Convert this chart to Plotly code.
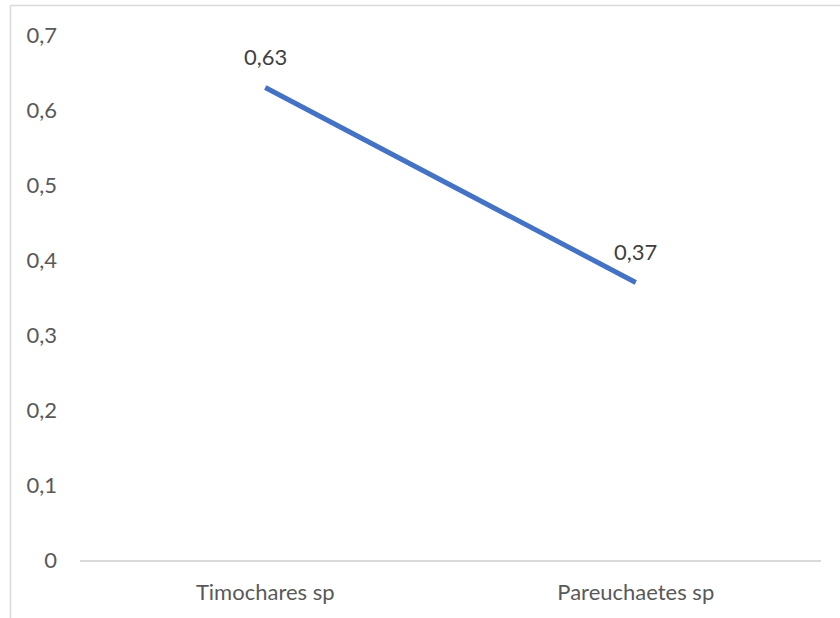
import plotly.graph_objects as go

categories = ["Timochares sp", "Pareuchaetes sp"]
values = [0.63, 0.37]
y_ticks = [0, 0.1, 0.2, 0.3, 0.4, 0.5, 0.6, 0.7]

text_color = "#595959"
font_family = "Lato, Open Sans, sans-serif"
font_size = 22


def fmt(v):
    return f"{v:.2f}".rstrip("0").rstrip(".").replace(".", ",") if v else "0"


fig = go.Figure()
fig.add_trace(go.Scatter(
    x=categories,
    y=values,
    mode="lines",
    line=dict(color="#4472C4", width=5),
    hoverinfo="skip",
))

# value labels above each point
for c, v in zip(categories, values):
    fig.add_annotation(
        x=c, y=v, text=fmt(v), showarrow=False, yshift=31,
        font=dict(family=font_family, size=font_size, color="#404040"),
    )

# light frame around the chart area (partially cropped at right/bottom)
frame = dict(color="#D9D9D9", width=1.5)
fig.add_shape(type="line", xref="paper", yref="paper",
              x0=-0.0938, x1=1.1, y0=1.0562, y1=1.0562, line=frame)
fig.add_shape(type="line", xref="paper", yref="paper",
              x0=-0.0938, x1=-0.0938, y0=-0.2, y1=1.0562, line=frame)

fig.update_layout(
    width=840, height=618,
    margin=dict(l=80, r=19, t=35, b=58),
    paper_bgcolor="white",
    plot_bgcolor="white",
    showlegend=False,
    font=dict(family=font_family, size=font_size, color=text_color),
    xaxis=dict(
        type="category",
        range=[-0.5, 1.5],
        showline=True, linecolor="#D9D9D9", linewidth=1.5,
        showgrid=False, ticks="", zeroline=False,
        ticklabelstandoff=12,
        tickfont=dict(size=font_size, color=text_color),
    ),
    yaxis=dict(
        range=[0, 0.7],
        tickvals=y_ticks,
        ticktext=[fmt(t) for t in y_ticks],
        showgrid=False, zeroline=False, showline=False, ticks="",
        ticklabelstandoff=22,
        tickfont=dict(size=font_size, color=text_color),
    ),
)

fig.write_html("out.html")
